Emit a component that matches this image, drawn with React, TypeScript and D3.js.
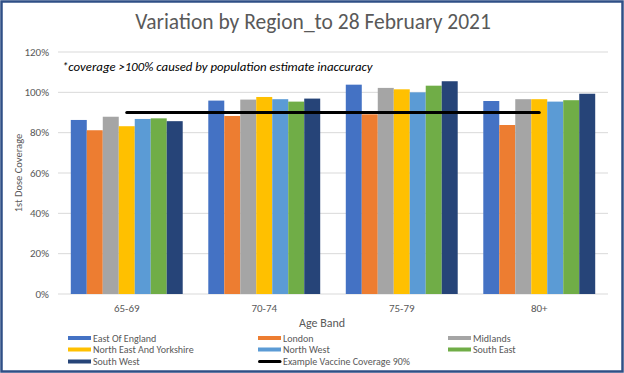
import { useEffect, useRef } from 'react';
import * as d3 from 'd3';

const ageBands = ["65-69", "70-74", "75-79", "80+"];
const regions = ["East Of England", "London", "Midlands", "North East And Yorkshire", "North West", "South East", "South West"];
const regionColors = ["#4472C4", "#ED7D31", "#A5A5A5", "#FFC000", "#5B9BD5", "#70AD47", "#264478"];

const eastOfEngland = [86.3, 95.9, 103.8, 95.7];
const london = [81.2, 88.3, 89.1, 83.8];
const midlands = [87.9, 96.4, 102.2, 96.6];
const northEastYorkshire = [83.2, 97.7, 101.5, 96.6];
const northWest = [86.8, 96.6, 100.0, 95.4];
const southEast = [87.1, 95.4, 103.3, 96.1];
const southWest = [85.7, 96.9, 105.5, 99.3];
const seriesValues = [eastOfEngland, london, midlands, northEastYorkshire, northWest, southEast, southWest];

const targetCoverage = 90;
const yTicks = [0, 20, 40, 60, 80, 100, 120];

const FONT = "Carlito, Calibri, 'Liberation Sans', sans-serif";

const App = () => {
    const ref = useRef<SVGSVGElement>(null);

    useEffect(() => {
        const svg = d3.select(ref.current);
        svg.selectAll("*").remove();

        const width = 624, height = 373;
        const margin = { top: 52, right: 16, bottom: 79, left: 58 };

        // frame
        svg.append("rect")
            .attr("x", 1.5).attr("y", 1.5)
            .attr("width", width - 3).attr("height", height - 3)
            .attr("fill", "#ffffff")
            .attr("stroke", "#2F4F86")
            .attr("stroke-width", 2.5);

        const x0 = d3.scaleBand().domain(ageBands).range([margin.left, width - margin.right]);
        const x1 = d3.scaleBand().domain(regions).range([0, x0.bandwidth()]).paddingOuter(0.8);
        const y = d3.scaleLinear().domain([0, 120]).range([height - margin.bottom, margin.top]);

        // gridlines
        svg.append("g").selectAll("line")
            .data(yTicks)
            .join("line")
            .attr("x1", margin.left).attr("x2", width - margin.right)
            .attr("y1", (d) => y(d)).attr("y2", (d) => y(d))
            .attr("stroke", "#D9D9D9").attr("stroke-width", 1);

        svg.append("g").selectAll("text")
            .data(yTicks)
            .join("text")
            .attr("x", margin.left - 9)
            .attr("y", (d) => y(d) + 3.5)
            .attr("text-anchor", "end")
            .style("font-family", FONT).style("font-size", "11px")
            .attr("fill", "#595959")
            .text((d) => d + "%");

        // bars
        const groups = svg.append("g").selectAll("g")
            .data(ageBands)
            .join("g")
            .attr("transform", (d) => "translate(" + x0(d) + ",0)");

        groups.selectAll("rect")
            .data((d, i) => regions.map((r, j) => ({ region: r, value: seriesValues[j][i], color: regionColors[j] })))
            .join("rect")
            .attr("x", (d) => x1(d.region)!)
            .attr("width", x1.bandwidth())
            .attr("y", (d) => y(d.value))
            .attr("height", (d) => y(0) - y(d.value))
            .attr("fill", (d) => d.color);

        // target line
        svg.append("line")
            .attr("x1", x0(ageBands[0])! + x0.bandwidth() / 2)
            .attr("x2", x0(ageBands[ageBands.length - 1])! + x0.bandwidth() / 2)
            .attr("y1", y(targetCoverage)).attr("y2", y(targetCoverage))
            .attr("stroke", "#000000").attr("stroke-width", 3)
            .attr("stroke-linecap", "round");

        // x labels
        svg.append("g").selectAll("text")
            .data(ageBands)
            .join("text")
            .attr("x", (d) => x0(d)! + x0.bandwidth() / 2)
            .attr("y", 312)
            .attr("text-anchor", "middle")
            .style("font-family", FONT).style("font-size", "11px")
            .attr("fill", "#595959")
            .text((d) => d);

        svg.append("text")
            .attr("x", 322).attr("y", 327)
            .attr("text-anchor", "middle")
            .style("font-family", FONT).style("font-size", "12px")
            .attr("fill", "#595959")
            .text("Age Band");

        svg.append("text")
            .attr("transform", "translate(22,173) rotate(-90)")
            .attr("text-anchor", "middle")
            .style("font-family", FONT).style("font-size", "10.5px")
            .attr("fill", "#595959")
            .text("1st Dose Coverage");

        // title + note
        svg.append("text")
            .attr("x", 313).attr("y", 29)
            .attr("text-anchor", "middle")
            .style("font-family", FONT).style("font-size", "21.5px")
            .attr("fill", "#595959")
            .text("Variation by Region_to 28 February 2021");

        svg.append("text")
            .attr("x", 62).attr("y", 70.5)
            .style("font-family", FONT).style("font-size", "12.8px")
            .style("font-style", "italic")
            .attr("fill", "#000000")
            .text("*coverage >100% caused by population estimate inaccuracy");

        // legend
        const legendItems = regions.map((r, i) => ({ label: r, color: regionColors[i], line: false }))
            .concat([{ label: "Example Vaccine Coverage 90%", color: "#000000", line: true }]);
        const colX = [68, 258, 448];
        const rowY = [338, 349.5, 361.5];

        const legend = svg.append("g").selectAll("g")
            .data(legendItems)
            .join("g")
            .attr("transform", (d, i) => "translate(" + colX[i % 3] + "," + rowY[Math.floor(i / 3)] + ")");

        legend.filter((d) => !d.line).append("rect")
            .attr("x", 0).attr("y", -2)
            .attr("width", 23).attr("height", 4)
            .attr("fill", (d) => d.color);

        legend.filter((d) => d.line).append("line")
            .attr("x1", 1.5).attr("x2", 22).attr("y1", 0).attr("y2", 0)
            .attr("stroke", "#000000").attr("stroke-width", 3)
            .attr("stroke-linecap", "round");

        legend.append("text")
            .attr("x", 25).attr("y", 3.5)
            .style("font-family", FONT).style("font-size", "10px")
            .attr("fill", "#595959")
            .text((d) => d.label);
    }, []);

    return (
        <svg ref={ref} width={624} height={373}
            style={{ position: "fixed", left: 0, top: 0, display: "block" }} />
    );
};

export default App;
